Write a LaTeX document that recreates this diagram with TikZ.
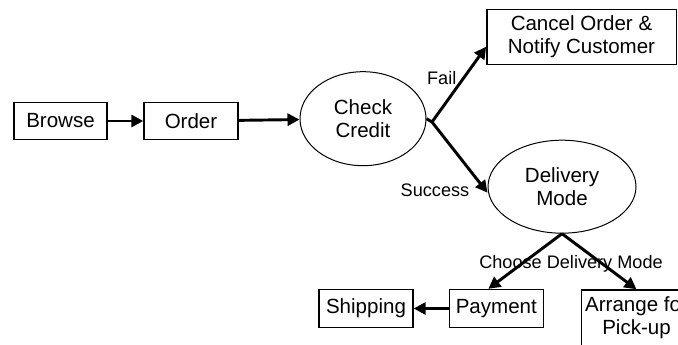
\documentclass[tikz,border=0pt]{standalone}
\usepackage{fontspec}
\setmainfont{Liberation Sans}
\usepackage{tikz}
\usetikzlibrary{positioning}
\usetikzlibrary{shapes}
\usetikzlibrary{arrows.meta}

\tikzset{
	stepBox/.style={rectangle, draw=black, line width=1pt, inner sep=0pt, align=center, font=\fontsize{15.4}{17.5}\selectfont},
	stateOval/.style={ellipse, draw=black, line width=0.75pt, inner sep=0pt, align=center, font=\fontsize{15.4}{17.5}\selectfont},
	flowArrow/.style={-{Triangle[length=9pt, width=9pt]}, line width=2.2pt},
	edgeLabel/.style={inner sep=0pt, font=\fontsize{13.6}{15}\selectfont}
}

\begin{document}
\begin{tikzpicture}[x=0.75pt, y=-0.75pt]
		\useasboundingbox (0,0) rectangle (678,345);
		\clip (0,0) rectangle (678,345);

		\node[stepBox, minimum width=69.75pt, minimum height=27.75pt](browseBox) at (60.5,121){Browse};
		\node[stepBox, minimum width=70.5pt, minimum height=27.75pt](orderBox) at (191,121){Order};
		\node[stateOval, minimum width=94.5pt, minimum height=70.5pt](creditOval) at (363,118.7){Check\\Credit};
		\node[stepBox, minimum width=142pt, minimum height=41.25pt](cancelBox) at (581.5,36.7){Cancel Order \&\\Notify Customer};
		\node[stateOval, minimum width=111pt, minimum height=69.75pt](deliveryOval) at (562,186.7){Delivery\\Mode};
		\node[stepBox, minimum width=70.5pt, minimum height=28.5pt](shippingBox) at (366,308.5){Shipping};
		\node[stepBox, minimum width=70.5pt, minimum height=28.5pt](paymentBox) at (496.3,308.5){Payment};
		\node[stepBox, minimum width=82.5pt, minimum height=42pt, anchor=north](pickupBox) at (636.5,289.3){Arrange for\\Pick-up};

		\coordinate (creditSplit) at (432,122);

		\node[edgeLabel](failLabel) at (441.7,77.7){Fail};
		\node[edgeLabel](successLabel) at (435,190){Success};
		\node[edgeLabel](chooseLabel) at (571,264.3){Choose Delivery Mode};

		% draw order edges
		\draw[flowArrow] (browseBox) -- (orderBox);
		\draw[flowArrow] (orderBox) -- (creditOval);

		% draw credit edges
		\draw[line width=2.2pt] (creditOval.east) -- (creditSplit);
		\draw[flowArrow] (creditSplit) -- ([yshift=-7.5pt]cancelBox.west);
		\draw[flowArrow] (creditSplit) -- ([yshift=-4.5pt]deliveryOval.west);

		% draw delivery edges
		\draw[flowArrow] (deliveryOval.south) -- ([xshift=-6pt]paymentBox.north);
		\draw[flowArrow] (deliveryOval.south) -- (pickupBox.north);
		\draw[flowArrow] (paymentBox) -- (shippingBox);

	\end{tikzpicture}
\end{document}
